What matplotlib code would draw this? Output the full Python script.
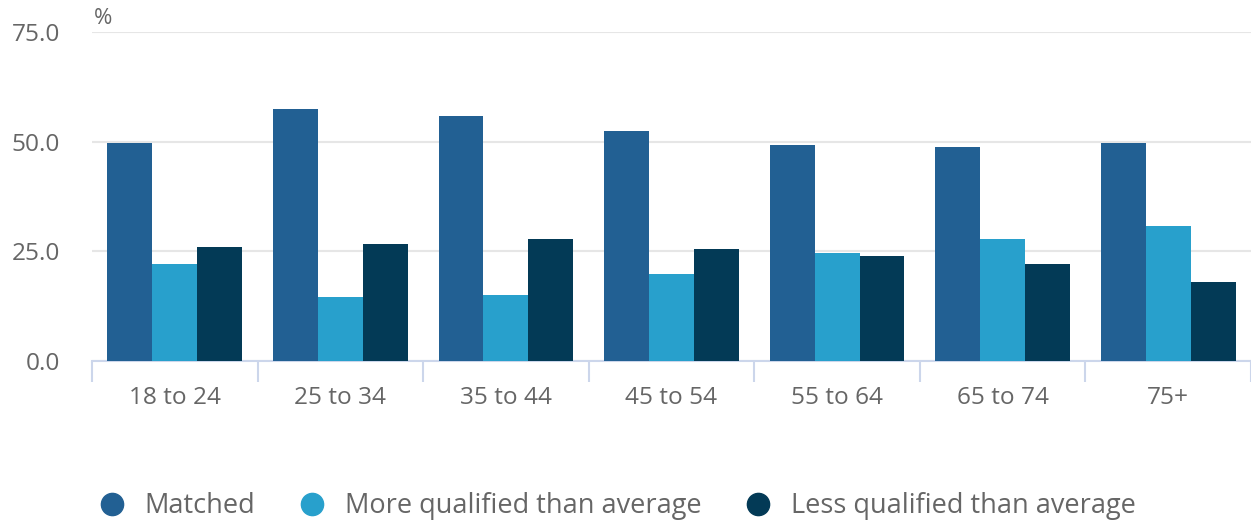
import matplotlib
matplotlib.use("Agg")
import matplotlib.pyplot as plt
from matplotlib.lines import Line2D
import numpy as np

plt.rcParams['font.family'] = ['Open Sans', 'DejaVu Sans']

# data
age_groups = ['18 to 24', '25 to 34', '35 to 44', '45 to 54', '55 to 64', '65 to 74', '75+']
matched = [49.8, 57.4, 55.8, 52.4, 49.3, 48.8, 49.7]
more_qualified = [22.0, 14.6, 15.1, 19.9, 24.7, 27.7, 30.7]
less_qualified = [26.1, 26.6, 27.7, 25.6, 24.0, 22.2, 17.9]
series_names = ['Matched', 'More qualified than average', 'Less qualified than average']
colors = ['#226093', '#28a0cc', '#033a56']
grey = '#666666'

fig = plt.figure(figsize=(12.51, 5.23), dpi=100)
ax = fig.add_axes([92 / 1251, 1 - 361 / 523, 1 - 92 / 1251, (361 - 32) / 523])

x = np.arange(len(age_groups))
w = 0.271
for i, vals in enumerate([matched, more_qualified, less_qualified]):
    ax.bar(x + (i - 1) * w, vals, width=w, color=colors[i], zorder=3)

ax.set_xlim(-0.5, len(age_groups) - 0.5)
ax.set_ylim(0, 75)
ax.set_yticks([0, 25, 50, 75])
ax.set_yticklabels(['0.0', '25.0', '50.0', '75.0'])
ax.grid(axis='y', color='#e6e6e6', linewidth=1.5, zorder=0)

ax.set_xticks(x)
ax.set_xticklabels(age_groups)
ax.set_xticks(np.arange(len(age_groups) + 1) - 0.5, minor=True)
ax.tick_params(axis='x', which='major', length=0, pad=18, labelsize=17.6, labelcolor=grey)
ax.tick_params(axis='x', which='minor', length=15, width=1.5, color='#ccd6eb')
ax.tick_params(axis='y', length=0, pad=23, labelsize=17.6, labelcolor=grey)

for s in ['top', 'right', 'left']:
    ax.spines[s].set_visible(False)
ax.spines['bottom'].set_color('#ccd6eb')
ax.spines['bottom'].set_linewidth(1.5)

fig.text(94 / 1251, 1 - 18 / 523, '%', fontsize=16, color=grey, va='center', ha='left')

handles = [Line2D([], [], marker='o', linestyle='none', markersize=16,
                  markerfacecolor=c, markeredgecolor=c) for c in colors]
fig.legend(handles, series_names, loc='center left', bbox_to_anchor=(85 / 1251, 1 - 506 / 523),
           ncol=3, frameon=False, fontsize=19.5, labelcolor=grey, handletextpad=0.6,
           columnspacing=1.5, borderaxespad=0, handlelength=1.2)

fig.savefig('out.png', dpi=100)
